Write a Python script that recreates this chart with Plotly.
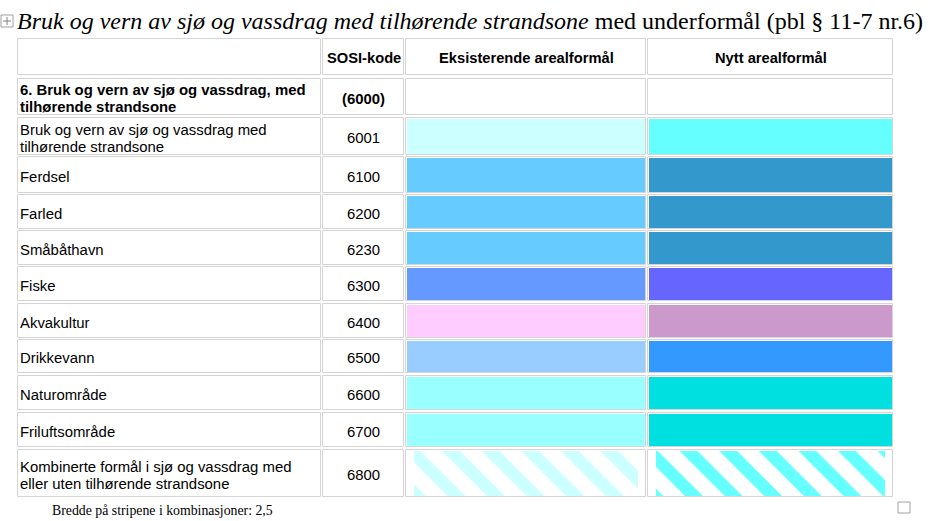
''' Tabell over arealformål for sjø og vassdrag '''

## Imports
import plotly.graph_objects as go

## Data
headers = ["", "SOSI-kode", "Eksisterende arealformål", "Nytt arealformål"]
labels = [
    "6. Bruk og vern av sjø og vassdrag, med<br>tilhørende strandsone",
    "Bruk og vern av sjø og vassdrag med<br>tilhørende strandsone",
    "Ferdsel",
    "Farled",
    "Småbåthavn",
    "Fiske",
    "Akvakultur",
    "Drikkevann",
    "Naturområde",
    "Friluftsområde",
    "Kombinerte formål i sjø og vassdrag med<br>eller uten tilhørende strandsone",
]
codes = ["(6000)", "6001", "6100", "6200", "6230", "6300", "6400", "6500", "6600", "6700", "6800"]
existing_colors = [None, "#CCFFFF", "#66CCFF", "#66CCFF", "#66CCFF", "#6699FF",
                   "#FFCCFF", "#99CCFF", "#99FFFF", "#99FFFF", "#CCFFFF"]
new_colors = [None, "#66FFFF", "#3399CC", "#3399CC", "#3399CC", "#6666FF",
              "#CC99CC", "#3399FF", "#00E0E0", "#00E0E0", "#66FFFF"]
hatched = [False, False, False, False, False, False, False, False, False, False, True]
bold_rows = [True, False, False, False, False, False, False, False, False, False, False]

title_italic = "Bruk og vern av sjø og vassdrag med tilhørende strandsone"
title_rest = " med underformål (pbl § 11-7 nr.6)"
footnote = "Bredde på stripene i kombinasjoner: 2,5"

## Layout (pixel grid of the page)
W, H = 943, 521
col_edges = [(18, 321), (323, 404), (406, 646), (648, 893)]
row_edges = [(39, 75), (79, 115), (118, 155), (157, 193), (195, 229), (231, 265),
             (267, 301), (304, 338), (340, 373), (376, 410), (413, 447), (450, 497)]
BORDER = "#d4d4d4"
FONT = "Liberation Sans, Arial, sans-serif"
LINE_GAP = 17

fig = go.Figure()

centers = [(a + b) / 2 for a, b in row_edges]
heights = [b - a for a, b in row_edges]

# Cell borders
for left, right in col_edges:
    fig.add_trace(go.Bar(
        orientation="h",
        y=centers,
        x=[right - left] * len(row_edges),
        base=[left] * len(row_edges),
        width=heights,
        marker=dict(color="white", line=dict(color=BORDER, width=1)),
        hoverinfo="skip",
        showlegend=False
    ))

# Colour cells
def add_fill(col_idx, colors):
    left, right = col_edges[col_idx]
    for i, c in enumerate(colors):
        if c is None:
            continue
        top, bot = row_edges[i + 1]
        if hatched[i]:
            x0, x1 = left + 8, right - 8
            marker = dict(
                color="white",
                line=dict(width=0),
                pattern=dict(shape="\\", size=28, solidity=0.45, fgcolor=c,
                             bgcolor="white", fgopacity=1)
            )
        else:
            x0, x1 = left + 1, right - 1
            marker = dict(color=c, line=dict(width=0))
        fig.add_trace(go.Bar(
            orientation="h",
            y=[(top + bot) / 2],
            x=[x1 - x0],
            base=[x0],
            width=[bot - top - 2],
            marker=marker,
            hoverinfo="skip",
            showlegend=False
        ))

add_fill(2, existing_colors)
add_fill(3, new_colors)

annotations = []

# Header text
for j, h in enumerate(headers):
    if not h:
        continue
    left, right = col_edges[j]
    annotations.append(dict(
        x=(left + right) / 2, y=centers[0] + 1, text="<b>" + h + "</b>",
        xanchor="center", yanchor="middle", showarrow=False,
        font=dict(family=FONT, size=14.7, color="black")
    ))

# Row text
for i, lab in enumerate(labels):
    cy = centers[i + 1] + 1.5
    lines = lab.split("<br>")
    offs = [(k - (len(lines) - 1) / 2) * LINE_GAP for k in range(len(lines))]
    for line, off in zip(lines, offs):
        annotations.append(dict(
            x=col_edges[0][0], y=cy + off,
            text="<b>" + line + "</b>" if bold_rows[i] else line,
            xanchor="left", yanchor="middle", showarrow=False,
            font=dict(family=FONT, size=14.9, color="black")
        ))
    annotations.append(dict(
        x=sum(col_edges[1]) / 2, y=cy,
        text="<b>" + codes[i] + "</b>" if bold_rows[i] else codes[i],
        xanchor="center", yanchor="middle", showarrow=False,
        font=dict(family=FONT, size=14.9, color="black")
    ))

# Title
annotations.append(dict(
    x=15, y=21, text="<i>" + title_italic + "</i>" + title_rest,
    xanchor="left", yanchor="middle", showarrow=False,
    font=dict(family="Liberation Serif, Times New Roman, serif", size=24, color="black")
))

# Footnote
annotations.append(dict(
    x=50, y=510, text=footnote,
    xanchor="left", yanchor="middle", showarrow=False,
    font=dict(family="Liberation Serif, Cambria, serif", size=13.8, color="black")
))

# Small Word markers (table handle and end mark)
shapes = [
    dict(type="rect", x0=1, x1=13, y0=15, y1=27, line=dict(color="#a0a0a0", width=1)),
    dict(type="line", x0=7, x1=7, y0=17, y1=25, line=dict(color="#808080", width=1)),
    dict(type="line", x0=3, x1=11, y0=21, y1=21, line=dict(color="#808080", width=1)),
    dict(type="rect", x0=898, x1=910, y0=502, y1=513, line=dict(color="#a0a0a0", width=1)),
]

fig.update_layout(
    width=W,
    height=H,
    margin=dict(l=0, r=0, t=0, b=0),
    paper_bgcolor="white",
    plot_bgcolor="white",
    barmode="overlay",
    bargap=0,
    annotations=annotations,
    shapes=shapes,
    xaxis=dict(range=[0, W], visible=False, fixedrange=True),
    yaxis=dict(range=[H, 0], visible=False, fixedrange=True),
)

fig.write_html("out.html", config={"displayModeBar": False},
               post_script="document.body.style.margin='0';")
